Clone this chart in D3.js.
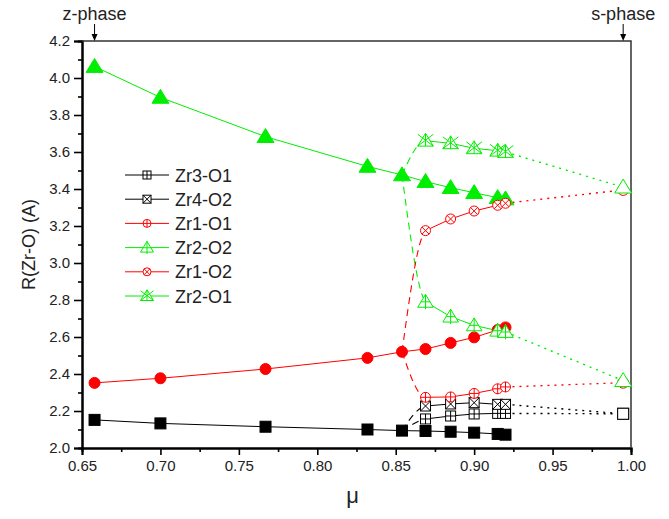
<!DOCTYPE html>
<html><head><meta charset="utf-8">
<script src="https://cdn.jsdelivr.net/npm/d3@7"></script>
<style>body{margin:0;background:#fff}svg{display:block;font-family:"Liberation Sans",Arial,sans-serif}</style>
</head><body><svg id="c" width="669" height="519"></svg>
<script>
// ---------- data ----------
const muMain = [0.658, 0.700, 0.767, 0.832, 0.854, 0.869, 0.885, 0.900, 0.915, 0.920];
const blackFilled = [2.152, 2.133, 2.115, 2.100, 2.094, 2.092, 2.088, 2.083, 2.076, 2.072];
const redFilled   = [2.352, 2.377, 2.427, 2.487, 2.520, 2.535, 2.568, 2.598, 2.638, 2.652];
const greenFilled = [4.062, 3.895, 3.683, 3.522, 3.476, 3.440, 3.407, 3.380, 3.353, 3.346];

const muSplit = [0.869, 0.885, 0.900, 0.915, 0.920];
const zr3o1 = [2.157, 2.173, 2.184, 2.187, 2.187];
const zr4o2 = [2.227, 2.238, 2.245, 2.236, 2.236];
const zr1o1 = [2.274, 2.276, 2.295, 2.320, 2.330];
const zr2o2 = [2.790, 2.710, 2.663, 2.634, 2.627];
const zr1o2 = [3.175, 3.238, 3.281, 3.312, 3.323];
const zr2o1 = [3.661, 3.647, 3.620, 3.607, 3.600];

const muTransition = 0.854;
const muSPhase = 0.995;
const sPhaseEnd = {"Zr3-O1": 2.185, "Zr4-O2": 2.185, "Zr1-O1": 2.353, "Zr2-O2": 2.364, "Zr1-O2": 3.395, "Zr2-O1": 3.410};

const xTicks = [0.65, 0.70, 0.75, 0.80, 0.85, 0.90, 0.95, 1.00];
const xMinor = [0.675, 0.725, 0.775, 0.825, 0.875, 0.925, 0.975];
const yTicks = [2.0, 2.2, 2.4, 2.6, 2.8, 3.0, 3.2, 3.4, 3.6, 3.8, 4.0, 4.2];
const yMinor = [2.1, 2.3, 2.5, 2.7, 2.9, 3.1, 3.3, 3.5, 3.7, 3.9, 4.1];
const phaseMu = [0.658, 0.995];
const phaseLabels = ["z-phase", "s-phase"];

const BLACK = "#000", RED = "#ff0000", GREEN = "#00ee00";

// split series: name, values, colour, shape, inner, parent filled series
const splitSeries = [
  {name: "Zr3-O1", v: zr3o1, c: BLACK, shape: "square", inner: "plus", parent: blackFilled},
  {name: "Zr4-O2", v: zr4o2, c: BLACK, shape: "square", inner: "x", parent: blackFilled},
  {name: "Zr1-O1", v: zr1o1, c: RED, shape: "circle", inner: "plus", parent: redFilled},
  {name: "Zr2-O2", v: zr2o2, c: GREEN, shape: "triangle", inner: "plus", parent: greenFilled},
  {name: "Zr1-O2", v: zr1o2, c: RED, shape: "circle", inner: "x", parent: redFilled},
  {name: "Zr2-O1", v: zr2o1, c: GREEN, shape: "triangle", inner: "x", parent: greenFilled}
];
const filledSeries = [
  {v: blackFilled, c: BLACK, shape: "square"},
  {v: redFilled, c: RED, shape: "circle"},
  {v: greenFilled, c: GREEN, shape: "triangle"}
];

// ---------- layout ----------
const svg = d3.select("#c");
const x = d3.scaleLinear([0.65, 1.0], [82, 631]);
const y = d3.scaleLinear([2.0, 4.2], [448, 41]);

function marker(g, cx, cy, shape, color, filled, inner, s) {
  s = s || 10;
  const h = s / 2;
  const m = g.append("g").attr("transform", `translate(${cx},${cy})`);
  const sw = 1;
  if (shape === "square") {
    m.append("rect").attr("x", -h).attr("y", -h).attr("width", s).attr("height", s)
      .attr("fill", filled ? color : "#fff").attr("stroke", color).attr("stroke-width", sw);
    if (inner === "plus") m.append("path").attr("d", `M${-h},0H${h}M0,${-h}V${h}`).attr("stroke", color).attr("stroke-width", sw);
    if (inner === "x") m.append("path").attr("d", `M${-h},${-h}L${h},${h}M${h},${-h}L${-h},${h}`).attr("stroke", color).attr("stroke-width", sw);
  } else if (shape === "circle") {
    m.append("circle").attr("r", h).attr("fill", filled ? color : "#fff").attr("stroke", color).attr("stroke-width", sw);
    const r = h * 0.72;
    if (inner === "plus") m.append("path").attr("d", `M${-h},0H${h}M0,${-h}V${h}`).attr("stroke", color).attr("stroke-width", sw);
    if (inner === "x") m.append("path").attr("d", `M${-r},${-r}L${r},${r}M${r},${-r}L${-r},${r}`).attr("stroke", color).attr("stroke-width", sw);
  } else {
    const w = s * 0.65, top = -s * 0.62, bot = s * 0.45;
    m.append("path").attr("d", `M0,${top}L${w},${bot}L${-w},${bot}Z`)
      .attr("fill", filled ? color : "#fff").attr("stroke", color).attr("stroke-width", sw);
    if (inner === "plus") m.append("path").attr("d", `M0,${top}V${bot + 2}M${-w * 0.6},${(top + bot) / 2 + 1}H${w * 0.6}`).attr("stroke", color).attr("stroke-width", sw);
    if (inner === "x") m.append("path").attr("d", `M${-w},${top + 1}L${w},${bot}M${w},${top + 1}L${-w},${bot}M0,${top}V${bot}`).attr("stroke", color).attr("stroke-width", sw);
  }
}

// ---------- axes ----------
const fontTick = 15;
const gx = svg.append("g").attr("transform", "translate(0,448)");
gx.call(d3.axisBottom(x).tickValues(xTicks).tickSize(7).tickPadding(5).tickFormat(d3.format(".2f")));
gx.append("g").call(d3.axisBottom(x).tickValues(xMinor).tickSize(4).tickFormat(""));
const gy = svg.append("g").attr("transform", "translate(82,0)");
gy.call(d3.axisLeft(y).tickValues(yTicks).tickSize(8).tickPadding(4).tickFormat(d3.format(".1f")));
gy.append("g").call(d3.axisLeft(y).tickValues(yMinor).tickSize(4).tickFormat(""));
svg.selectAll(".domain").attr("stroke", "#000").attr("stroke-width", 2);
svg.selectAll(".tick line").attr("stroke", "#000").attr("stroke-width", 1.6);
svg.selectAll(".tick text").attr("font-size", fontTick).attr("fill", "#222")
  .attr("font-family", '"Liberation Sans",Arial,sans-serif');
// frame (top/right)
svg.append("path").attr("d", `M${x(0.65)},${y(4.2)}H${x(1.0)}V${y(2.0)}`)
  .attr("fill", "none").attr("stroke", "#333").attr("stroke-width", 1.5);

// axis titles
svg.append("text").attr("transform", `translate(35,${(y(2.0) + y(4.2)) / 2}) rotate(-90)`)
  .attr("text-anchor", "middle").attr("font-size", 18).attr("fill", "#222").text("R(Zr-O) (A)");
svg.append("text").attr("x", (x(0.65) + x(1.0)) / 2 - 4).attr("y", 503).attr("text-anchor", "middle")
  .attr("font-size", 22).attr("fill", "#222").text("μ");

// phase annotations
phaseMu.forEach((m, i) => {
  const px = x(m);
  svg.append("text").attr("x", px).attr("y", 20).attr("text-anchor", "middle")
    .attr("font-size", 18).attr("fill", "#222").text(phaseLabels[i]);
  svg.append("line").attr("x1", px).attr("x2", px).attr("y1", 24).attr("y2", 35).attr("stroke", "#000").attr("stroke-width", 1);
  svg.append("path").attr("d", `M${px - 3},${34}L${px + 3},${34}L${px},${41}Z`).attr("fill", "#000");
});

// ---------- lines ----------
const line = d3.line().x(d => x(d[0])).y(d => y(d[1]));
const plot = svg.append("g");

// filled series solid lines
filledSeries.forEach(s => {
  plot.append("path").attr("d", line(muMain.map((m, i) => [m, s.v[i]])))
    .attr("fill", "none").attr("stroke", s.c).attr("stroke-width", 1);
});

// transition dashed curves, split solid, dotted to s-phase
const iT = muMain.indexOf(muTransition);
const mono = d3.line().x(d => x(d[0])).y(d => y(d[1])).curve(d3.curveMonotoneX);
splitSeries.forEach(s => {
  const pts = [[muTransition, s.parent[iT]], [muSplit[0], s.v[0]], [muSplit[1], s.v[1]]];
  let dstr = mono(pts);
  const c1 = dstr.indexOf("C");
  const c2 = dstr.indexOf("C", c1 + 1);
  if (c2 > 0) dstr = dstr.slice(0, c2);
  plot.append("path").attr("d", dstr).attr("fill", "none").attr("stroke", s.c)
    .attr("stroke-width", 1.1).attr("stroke-dasharray", "7,5");
  plot.append("path").attr("d", line(muSplit.map((m, i) => [m, s.v[i]])))
    .attr("fill", "none").attr("stroke", s.c).attr("stroke-width", 1);
  const last = muSplit.length - 1;
  plot.append("path").attr("d", line([[muSplit[last], s.v[last]], [muSPhase, sPhaseEnd[s.name]]]))
    .attr("fill", "none").attr("stroke", s.c).attr("stroke-width", 1.4).attr("stroke-dasharray", "2,5");
});

// ---------- markers ----------
const mk = svg.append("g");
filledSeries.forEach(s => {
  muMain.forEach((m, i) => marker(mk, x(m), y(s.v[i]), s.shape, s.c, true, null, s.shape === "triangle" ? 13 : 11));
});
splitSeries.forEach(s => {
  muSplit.forEach((m, i) => marker(mk, x(m), y(s.v[i]), s.shape, s.c, false, s.inner, s.shape === "triangle" ? 12 : 10));
});
// s-phase end markers
splitSeries.forEach(s => {
  marker(mk, x(muSPhase), y(sPhaseEnd[s.name]), s.shape, s.c, false, null, s.shape === "triangle" ? 13 : 11);
});

// ---------- legend ----------
const lg = svg.append("g");
splitSeries.forEach((s, i) => {
  const ly = 175 + i * 24.2;
  lg.append("line").attr("x1", 125).attr("x2", 169).attr("y1", ly).attr("y2", ly).attr("stroke", s.c).attr("stroke-width", 1);
  marker(lg, 147, ly, s.shape, s.c, false, s.inner, s.shape === "triangle" ? 10 : 8);
  lg.append("text").attr("x", 175).attr("y", ly + 6.5).attr("font-size", 18).attr("fill", "#222").text(s.name);
});
</script></body></html>
